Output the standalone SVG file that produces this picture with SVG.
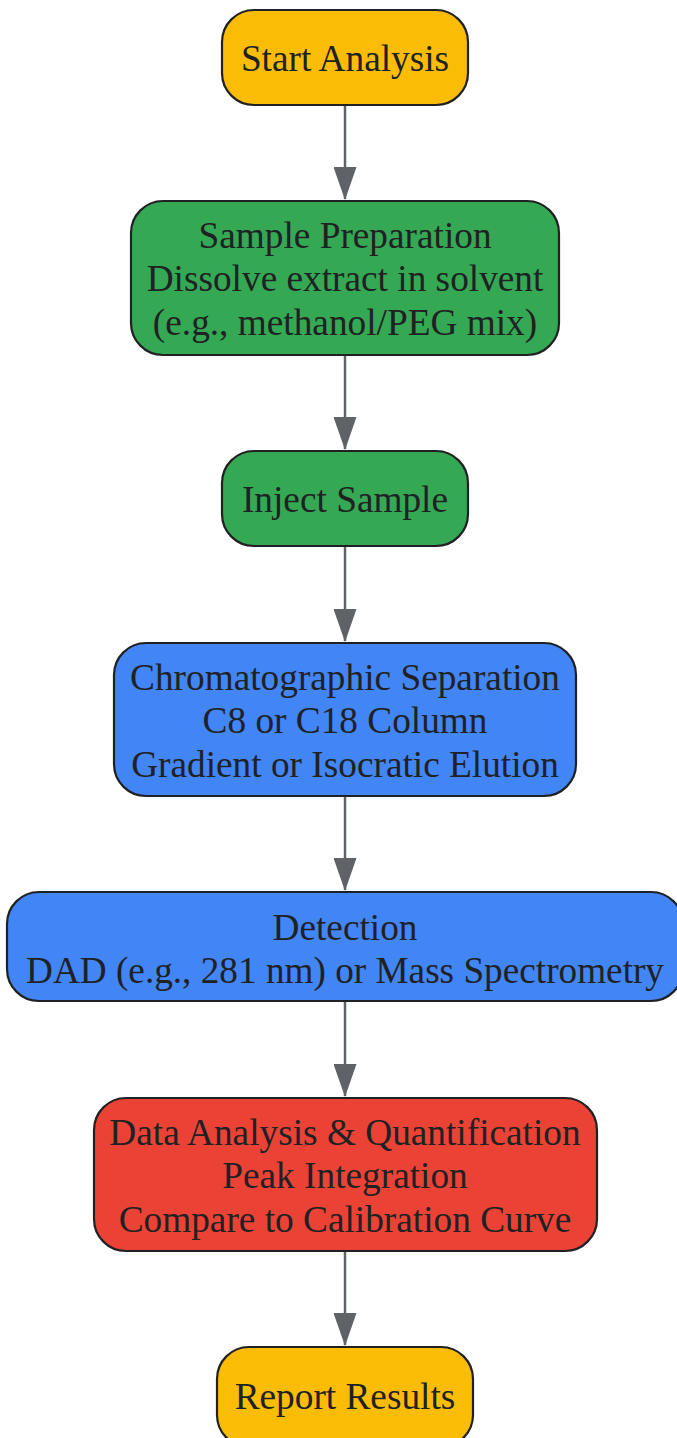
<svg xmlns="http://www.w3.org/2000/svg" width="677" height="1438" viewBox="0 0 677 1438">
<style>
.n{stroke:#202124;stroke-width:2.2}
.y{fill:#FBBC05}.g{fill:#34A853}.b{fill:#4285F4}.r{fill:#EA4335}
text{font-family:"Liberation Serif","Times New Roman",serif;font-size:37.3px;fill:#202124;text-anchor:middle}
.e{stroke:#5f6368;stroke-width:2.5;fill:none}
</style>
<defs>
<marker id="ah" markerUnits="userSpaceOnUse" markerWidth="33" markerHeight="23" refX="32" refY="11.5" orient="auto" viewBox="0 0 33 23">
<path d="M0,0 L33,11.5 L0,23 Z" fill="#5f6368"/>
</marker>
</defs>
<rect width="677" height="1438" fill="#fff"/>
<g id="edges">
<path class="e" d="M345,105 V199" marker-end="url(#ah)"/>
<path class="e" d="M345,355 V449" marker-end="url(#ah)"/>
<path class="e" d="M345,546 V641" marker-end="url(#ah)"/>
<path class="e" d="M345,796 V890" marker-end="url(#ah)"/>
<path class="e" d="M345,1001 V1096" marker-end="url(#ah)"/>
<path class="e" d="M345,1251 V1345" marker-end="url(#ah)"/>
</g>
<g id="start"><rect class="n y" x="222" y="10" width="246" height="95" rx="32"/><text x="345" y="71">Start Analysis</text></g>
<g id="prep"><rect class="n g" x="131" y="201" width="428" height="154" rx="32"/>
<text x="345" y="248">Sample Preparation</text><text x="345" y="291">Dissolve extract in solvent</text><text x="345" y="335">(e.g., methanol/PEG mix)</text></g>
<g id="inject"><rect class="n g" x="222" y="451" width="246" height="95" rx="32"/><text x="345" y="512">Inject Sample</text></g>
<g id="sep"><rect class="n b" x="114" y="643" width="462" height="153" rx="32"/>
<text x="345" y="690">Chromatographic Separation</text><text x="345" y="733">C8 or C18 Column</text><text x="345" y="777">Gradient or Isocratic Elution</text></g>
<g id="detect"><rect class="n b" x="7" y="892" width="676" height="109" rx="32"/>
<text x="345" y="940">Detection</text><text x="345" y="983" textLength="638" lengthAdjust="spacingAndGlyphs">DAD (e.g., 281 nm) or Mass Spectrometry</text></g>
<g id="data"><rect class="n r" x="94" y="1098" width="503" height="153" rx="32"/>
<text x="345" y="1145">Data Analysis &amp; Quantification</text><text x="345" y="1188">Peak Integration</text><text x="345" y="1232">Compare to Calibration Curve</text></g>
<g id="report"><rect class="n y" x="217" y="1347" width="256" height="100" rx="32"/><text x="345" y="1409">Report Results</text></g>
</svg>
